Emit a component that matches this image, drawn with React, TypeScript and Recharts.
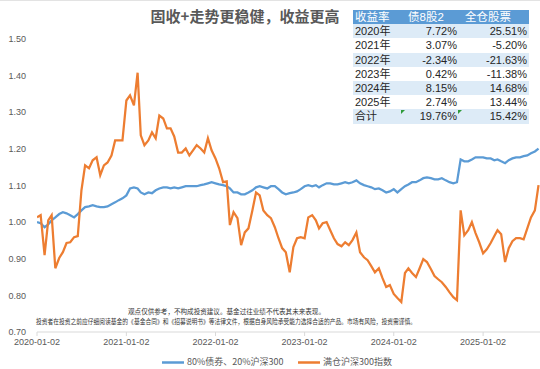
import { Line, LineChart, XAxis, YAxis } from 'recharts';

const BLUE = '#5b9bd5';
const ORANGE = '#ed7d31';
const GREY = '#595959';
const FONT = 'Liberation Sans, "Noto Sans CJK SC", sans-serif';
const CJK = '"Noto Sans CJK SC", sans-serif';

// net value, sampled twice a month from 2020-01-02
const bondMix = [
  1.0, 0.997, 0.986, 0.994, 1.005, 1.013, 1.022, 1.027, 1.024, 1.019, 1.013, 1.022,
  1.032, 1.041, 1.043, 1.046, 1.043, 1.041, 1.041, 1.043, 1.049, 1.054, 1.06, 1.065,
  1.073, 1.092, 1.095, 1.092, 1.081, 1.076, 1.081, 1.079, 1.087, 1.092, 1.095, 1.095,
  1.092, 1.095, 1.092, 1.095, 1.098, 1.098, 1.098, 1.098, 1.101, 1.103, 1.106, 1.109,
  1.106, 1.103, 1.101, 1.098, 1.092, 1.081, 1.081, 1.076, 1.076, 1.081, 1.087, 1.095,
  1.098, 1.095, 1.092, 1.098, 1.098, 1.09, 1.081, 1.076, 1.079, 1.081, 1.084, 1.09,
  1.098, 1.101, 1.098, 1.101, 1.095, 1.101, 1.106, 1.106, 1.103, 1.103, 1.106, 1.109,
  1.106, 1.109, 1.114, 1.106, 1.101, 1.098, 1.095, 1.09, 1.092, 1.087, 1.081, 1.084,
  1.09, 1.081, 1.09, 1.098, 1.103, 1.109, 1.109, 1.114, 1.12, 1.122, 1.12, 1.117,
  1.117, 1.12, 1.114, 1.109, 1.106, 1.109, 1.171, 1.166, 1.166, 1.171, 1.177, 1.177,
  1.177, 1.174, 1.174, 1.169, 1.171, 1.166, 1.161, 1.169, 1.174, 1.177, 1.177, 1.18,
  1.182, 1.188, 1.193, 1.201,
];

const csi300 = [
  1.013, 1.019, 0.91, 1.005, 1.019, 0.874, 0.902, 0.918, 0.943, 0.945, 0.959, 0.962,
  1.087, 1.155, 1.147, 1.169, 1.177, 1.128, 1.155, 1.163, 1.182, 1.223, 1.223, 1.223,
  1.332, 1.346, 1.319, 1.408, 1.237, 1.21, 1.223, 1.245, 1.229, 1.291, 1.283, 1.256,
  1.256, 1.234, 1.19, 1.19, 1.201, 1.182, 1.196, 1.21, 1.201, 1.19, 1.229, 1.196,
  1.174, 1.147, 1.109, 1.111, 0.992, 1.027, 1.011, 0.937, 0.972, 0.983, 1.032, 1.081,
  1.073, 1.032, 1.019, 1.011, 0.986, 0.956, 0.929, 0.918, 0.863, 0.932, 0.956, 0.959,
  0.956, 1.013, 1.019, 1.005, 0.983, 0.997, 1.0, 0.978, 0.956, 0.94, 0.934, 0.945,
  0.937, 0.951, 0.972, 0.918, 0.904, 0.896, 0.88, 0.863, 0.874, 0.847, 0.823, 0.828,
  0.804, 0.793, 0.782, 0.861, 0.874, 0.861, 0.85, 0.874, 0.899, 0.891, 0.872, 0.853,
  0.844, 0.836, 0.823, 0.809, 0.795, 0.787, 1.032, 0.964, 0.978, 1.0, 0.97, 0.945,
  0.915, 0.926, 0.943, 0.962, 0.978, 0.967, 0.891, 0.929, 0.948, 0.956, 0.956, 0.953,
  0.983, 1.013, 1.032, 1.101,
];

const xTickLabels = ['2020-01-02', '2021-01-02', '2022-01-02', '2023-01-02', '2024-01-02', '2025-01-02'];
const yTicks = [0.7, 0.8, 0.9, 1.0, 1.1, 1.2, 1.3, 1.4, 1.5];

const tableHead = ['收益率', '债8股2', '全仓股票'];
const tableYears = ['2020年', '2021年', '2022年', '2023年', '2024年', '2025年', '合计'];
const tableBond = ['7.72%', '3.07%', '-2.34%', '0.42%', '8.15%', '2.74%', '19.76%'];
const tableStock = ['25.51%', '-5.20%', '-21.63%', '-11.38%', '14.68%', '13.44%', '15.42%'];

const toTime = (s: string) => {
  const [y, m, d] = s.split('-').map(Number);
  return Date.UTC(y, m - 1, d);
};

const pad = (n: number) => String(n).padStart(2, '0');
const fmtDate = (t: number) => {
  const d = new Date(t);
  return `${d.getUTCFullYear()}-${pad(d.getUTCMonth() + 1)}-${pad(d.getUTCDate())}`;
};

const rows = bondMix.map((v, i) => ({
  t: Date.UTC(2020 + Math.floor(i / 24), Math.floor((i % 24) / 2), i % 2 ? 17 : 2),
  bond: v,
  stock: csi300[i],
}));

function ReturnTable() {
  const rowH = 14.2;
  const cell = { height: rowH, padding: 0, lineHeight: `${rowH}px`, whiteSpace: 'nowrap' as const };
  return (
    <table
      style={{
        position: 'absolute',
        left: 353,
        top: 10,
        width: 176,
        borderCollapse: 'collapse',
        tableLayout: 'fixed',
        fontFamily: FONT,
        fontSize: 11,
        color: '#262626',
      }}
    >
      <colgroup>
        <col style={{ width: 47 }} />
        <col style={{ width: 57 }} />
        <col style={{ width: 72 }} />
      </colgroup>
      <thead>
        <tr style={{ background: BLUE, color: '#fff', fontSize: 11.5 }}>
          <th style={{ ...cell, textAlign: 'left', paddingLeft: 2, fontWeight: 400 }}>{tableHead[0]}</th>
          <th style={{ ...cell, textAlign: 'left', paddingLeft: 8, fontWeight: 400 }}>{tableHead[1]}</th>
          <th style={{ ...cell, textAlign: 'left', paddingLeft: 8, fontWeight: 400 }}>{tableHead[2]}</th>
        </tr>
      </thead>
      <tbody>
        {tableYears.map((y, i) => (
          <tr key={y} style={{ background: i % 2 === 0 ? '#ddebf7' : '#fff' }}>
            <td style={{ ...cell, paddingLeft: 2 }}>{y}</td>
            <td style={{ ...cell, textAlign: 'right', position: 'relative' }}>
              {tableBond[i]}
              {i === tableYears.length - 1 && <Marker />}
            </td>
            <td style={{ ...cell, textAlign: 'right', paddingRight: 2, position: 'relative' }}>
              {tableStock[i]}
              {i === tableYears.length - 1 && <Marker />}
            </td>
          </tr>
        ))}
      </tbody>
    </table>
  );
}

// little green excel error flag
function Marker() {
  return (
    <span
      style={{
        position: 'absolute',
        left: 1,
        top: 1,
        width: 0,
        height: 0,
        borderTop: '4px solid #2e9b3a',
        borderRight: '4px solid transparent',
      }}
    />
  );
}

export default function App() {
  return (
    <div style={{ position: 'relative', width: 540, height: 369, background: '#fff', overflow: 'hidden' }}>
      <style>{'body{margin:0}'}</style>
      <LineChart width={540} height={369} data={rows} margin={{ top: 39, right: 0, left: 0, bottom: 17 }}>
        <XAxis
          type="number"
          dataKey="t"
          domain={[toTime('2020-01-02'), toTime('2025-08-23')]}
          ticks={xTickLabels.map(toTime)}
          tickFormatter={fmtDate}
          allowDataOverflow
          height={20}
          tickSize={4}
          tickMargin={3}
          axisLine={{ stroke: '#d9d9d9' }}
          tickLine={{ stroke: '#d9d9d9' }}
          tick={{ fontSize: 9, fill: GREY, fontFamily: FONT }}
        />
        <YAxis
          type="number"
          domain={[0.7, 1.5]}
          ticks={yTicks}
          tickFormatter={(v: number) => v.toFixed(2)}
          width={37}
          axisLine={false}
          tickLine={false}
          tickSize={0}
          tickMargin={11}
          tick={{ fontSize: 9, fill: GREY, fontFamily: FONT }}
        />
        <Line dataKey="bond" stroke={BLUE} strokeWidth={2.25} dot={false} isAnimationActive={false} />
        <Line dataKey="stock" stroke={ORANGE} strokeWidth={2.25} dot={false} isAnimationActive={false} />
      </LineChart>

      <svg width={540} height={369} style={{ position: 'absolute', left: 0, top: 0, pointerEvents: 'none' }}>
        <line x1={0} y1={0.5} x2={540} y2={0.5} stroke="#e3e3e3" />
        <text x={245} y={18} textAnchor="middle" dominantBaseline="middle" fontFamily={CJK} fontSize={15} fontWeight={700} fill={GREY}>
          固收+走势更稳健，收益更高
        </text>
        <text x={128} y={312} dominantBaseline="middle" fontFamily={CJK} fontSize={6.5} fill="#333" textLength={197} lengthAdjust="spacingAndGlyphs">
          观点仅供参考，不构成投资建议。基金过往业绩不代表其未来表现。
        </text>
        <text x={36} y={322.5} dominantBaseline="middle" fontFamily={CJK} fontSize={6.5} fill="#333" textLength={380} lengthAdjust="spacingAndGlyphs">
          投资者在投资之前应仔细阅读基金的《基金合同》和《招募说明书》等法律文件，根据自身风险承受能力选择合适的产品。市场有风险，投资需谨慎。
        </text>
        <line x1={162} y1={362.5} x2={184} y2={362.5} stroke={BLUE} strokeWidth={2.5} />
        <text x={187} y={362.5} dominantBaseline="middle" fontFamily={CJK} fontSize={9} fill={GREY}>
          80%债券、20%沪深300
        </text>
        <line x1={298} y1={362.5} x2={320} y2={362.5} stroke={ORANGE} strokeWidth={2.5} />
        <text x={323} y={362.5} dominantBaseline="middle" fontFamily={CJK} fontSize={9} fill={GREY}>
          满仓沪深300指数
        </text>
      </svg>

      <ReturnTable />
    </div>
  );
}
